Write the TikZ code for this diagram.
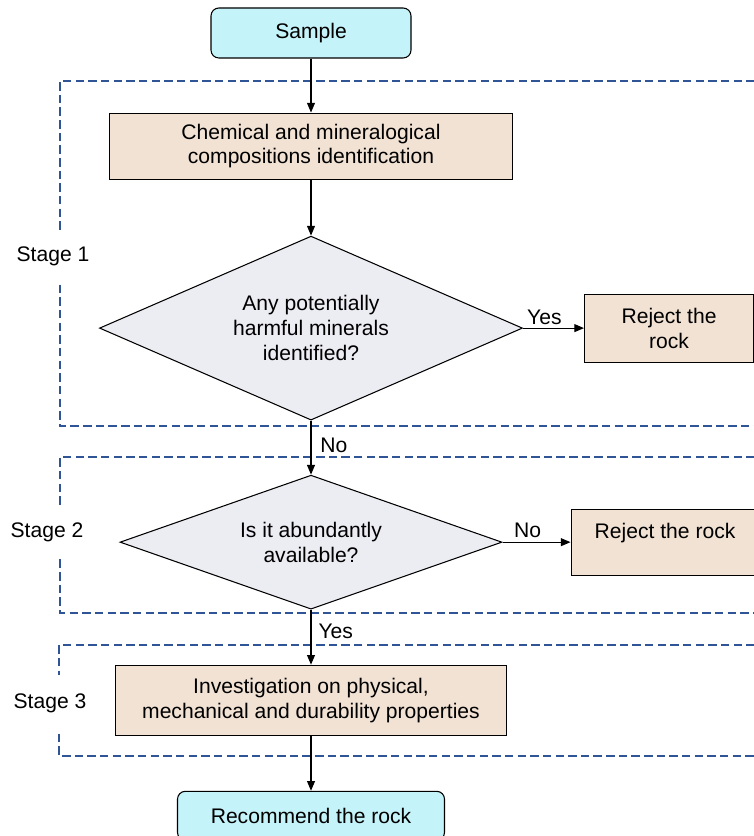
\documentclass[tikz,border=0pt]{standalone}
\usepackage{xcolor}
\usepackage{fontspec}
\setmainfont{Liberation Sans}
\usepackage{tikz}
\usetikzlibrary{shapes.geometric, arrows.meta, positioning, backgrounds}
\definecolor{startcyan}{RGB}{197,243,250}
\definecolor{stepbeige}{RGB}{242,226,212}
\definecolor{decgrey}{RGB}{236,236,243}
\definecolor{stageblue}{RGB}{47,85,151}

\begin{document}
\begin{tikzpicture}[
  font=\fontsize{12}{14.2}\selectfont,
  term/.style={rectangle, rounded corners=4.5pt, draw, line width=0.6pt, fill=startcyan,
               text centered, minimum width=4cm, minimum height=1cm},
  proc/.style={rectangle, draw, line width=0.6pt, fill=stepbeige, align=center},
  decision/.style={diamond, aspect=2.6, draw, line width=0.6pt, fill=decgrey, align=center, inner sep=0pt},
  arrow/.style={-{Triangle[length=5.5pt, width=4.5pt]}, line width=0.6pt},
  stageframe/.style={draw=stageblue, line width=1.5pt, dash pattern=on 4.8pt off 2.4pt},
  stagelabel/.style={fill=white, inner xsep=0pt}
]
\useasboundingbox (0,0) rectangle (15.08,-16.72);

% --- Main flow ---
\node[term] (sample) at (6.22,-0.66) {Sample};
\node[proc, minimum width=8.06cm, minimum height=1.32cm, below=1.08cm of sample] (chem)
  {Chemical and mineralogical\\compositions identification};
\node[decision, minimum width=8.46cm, minimum height=3.68cm, below=1.12cm of chem] (harmful)
  {Any potentially\\harmful minerals\\identified?};
\node[proc, minimum width=3.38cm, minimum height=1.36cm, right=1.22cm of harmful] (reject1)
  {Reject the\\rock};
\node[decision, minimum width=7.64cm, minimum height=2.68cm, below=1.08cm of harmful] (abundant)
  {Is it abundantly\\available?};
\node[proc, minimum width=3.76cm, minimum height=1.32cm, inner ysep=0pt,
      text height=0.58cm, text depth=0.74cm, right=1.36cm of abundant] (reject2)
  {Reject the rock};
\node[proc, minimum width=7.82cm, minimum height=1.4cm, below=1.1cm of abundant] (invest)
  {Investigation on physical,\\mechanical and durability properties};
\node[term, minimum width=5.34cm, minimum height=0.98cm, below=1.1cm of invest] (recommend)
  {Recommend the rock};

% --- Stages ---
\begin{scope}[on background layer]
  \draw[stageframe] (15.6,-1.62) -| (1.2,-8.52) -- (15.6,-8.52);
  \draw[stageframe] (15.6,-9.14) -| (1.2,-12.26) -- (15.6,-12.26);
  \draw[stageframe] (15.6,-12.9) -| (1.18,-15.12) -- (15.6,-15.12);
\end{scope}
\node[stagelabel, minimum height=0.96cm] (stage1) at (1.06,-5.12) {Stage 1};
\node[stagelabel, minimum height=1.0cm] (stage2) at (0.94,-10.64) {Stage 2};
\node[stagelabel, minimum height=1.14cm] (stage3) at (1.0,-14.06) {Stage 3};

% --- Arrows ---
\draw[arrow] (sample) -- (chem);
\draw[arrow] (chem) -- (harmful);
\draw[arrow] (harmful.east) -- (harmful.east -| reject1.west)
  node[pos=0.35, above, inner sep=1.5pt] {Yes};
\draw[arrow] (harmful.south) -- (abundant.north)
  node[pos=0.46, right, inner sep=5pt] {No};
\draw[arrow] (abundant.east) -- (abundant.east -| reject2.west)
  node[pos=0.37, above, inner sep=2pt] {No};
\draw[arrow] (abundant.south) -- (invest.north)
  node[pos=0.4, right, inner sep=4pt] {Yes};
\draw[arrow] (invest) -- (recommend);

\end{tikzpicture}
\end{document}
